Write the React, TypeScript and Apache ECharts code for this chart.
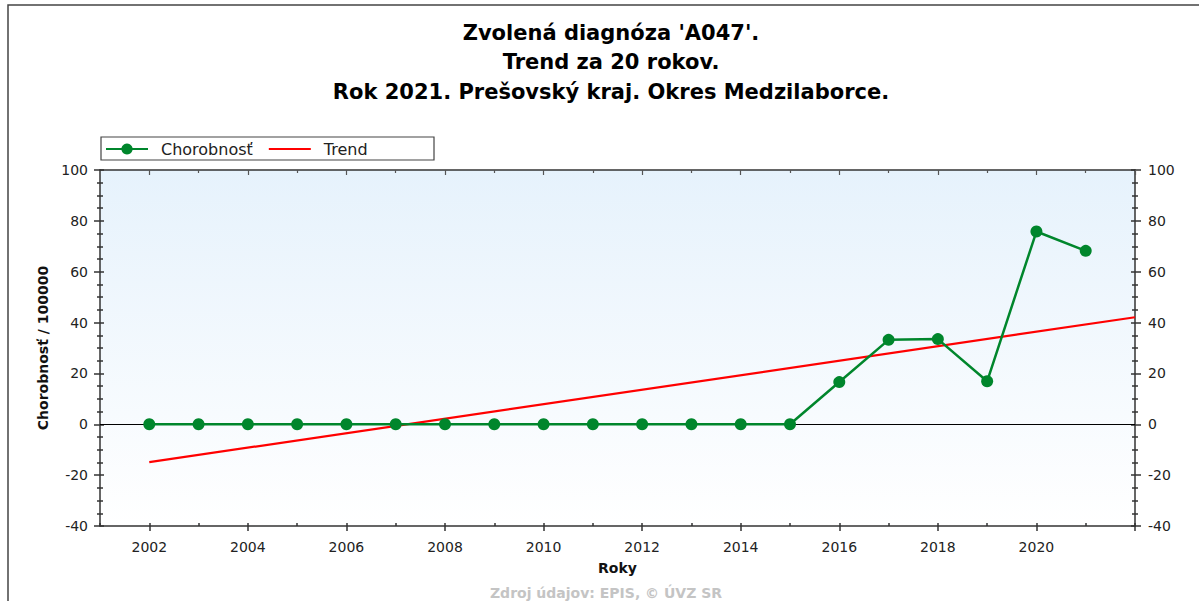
import React, { useEffect, useRef } from "react";
import * as echarts from "echarts";

const titleLines = ["Zvolená diagnóza 'A047'.", "Trend za 20 rokov.", "Rok 2021. Prešovský kraj. Okres Medzilaborce."];
const years = [2002, 2003, 2004, 2005, 2006, 2007, 2008, 2009, 2010, 2011, 2012, 2013, 2014, 2015, 2016, 2017, 2018, 2019, 2020, 2021];
const chorobnost = [0, 0, 0, 0, 0, 0, 0, 0, 0, 0, 0, 0, 0, 0, 16.6, 33.2, 33.5, 16.9, 75.8, 68.2];
const trendYears = [2002, 2022];
const trendValues = [-14.9, 42.1];
const majorYears = [2002, 2004, 2006, 2008, 2010, 2012, 2014, 2016, 2018, 2020, 2022];
const labelYears = [2002, 2004, 2006, 2008, 2010, 2012, 2014, 2016, 2018, 2020];
const allYears = [2001, 2002, 2003, 2004, 2005, 2006, 2007, 2008, 2009, 2010, 2011, 2012, 2013, 2014, 2015, 2016, 2017, 2018, 2019, 2020, 2021, 2022];
const oddYears = [2003, 2005, 2007, 2009, 2011, 2013, 2015, 2017, 2019, 2021];
const seriesNames = ["Chorobnosť", "Trend"];
const xAxisName = "Roky";
const yAxisName = "Chorobnosť / 100000";
const footer = "Zdroj údajov: EPIS, © ÚVZ SR";

const FONT = "'DejaVu Sans', Verdana, sans-serif";
const GREEN = "#00862c";
const RED = "#ff0000";
const AX = "#222";

export default function App() {
  const ref = useRef<HTMLDivElement>(null);
  useEffect(() => {
    if (!ref.current) return;
    const chart = echarts.init(ref.current, null, { renderer: "svg" });
    const yBase = { type: "value", min: -40, max: 100, interval: 20, splitLine: { show: false } };
    const xBase = { type: "value", min: 2001, max: 2022, splitLine: { show: false } };
    const line = (show: boolean) => ({ show, onZero: false, lineStyle: { color: "#333", width: 1.5 } });
    chart.setOption({
      animation: false,
      backgroundColor: "#ffffff",
      textStyle: { fontFamily: FONT },
      title: {
        text: titleLines.join("\n"),
        left: 606,
        textAlign: "center",
        top: 13,
        textStyle: { fontFamily: FONT, fontSize: 21, fontWeight: "bold", color: "#000", lineHeight: 29.5 },
      },
      graphic: [
        { type: "rect", shape: { x: 8, y: 5, width: 1210, height: 640 }, style: { fill: "none", stroke: "#444", lineWidth: 1.5 }, z: 0 },
        { type: "rect", shape: { x: 101, y: 137, width: 333, height: 23 }, style: { fill: "#fff", stroke: "#444", lineWidth: 1.2 }, z: 1 },
        {
          type: "text",
          x: 606,
          y: 593,
          style: { text: footer, fill: "#c4c4c4", font: `bold 14px ${FONT}`, textAlign: "center", textVerticalAlign: "middle" },
        },
      ],
      legend: {
        left: 105,
        top: 141,
        padding: 0,
        itemWidth: 42,
        itemHeight: 14,
        itemGap: 16,
        z: 10,
        data: [
          { name: seriesNames[0] },
          { name: seriesNames[1], icon: "path://M0,0 L42,0 L42,2.2 L0,2.2 Z" },
        ],
        textStyle: { fontFamily: FONT, fontSize: 16, color: "#222", padding: [0, 0, 0, 8] },
      },
      grid: {
        left: 100,
        right: 64,
        top: 170,
        bottom: 75,
        show: true,
        borderWidth: 0,
        backgroundColor: {
          type: "linear",
          x: 0,
          y: 0,
          x2: 0,
          y2: 1,
          colorStops: [
            { offset: 0, color: "#e6f2fc" },
            { offset: 1, color: "#ffffff" },
          ],
        },
      },
      xAxis: [
        {
          ...xBase,
          position: "bottom",
          axisLine: line(true),
          axisTick: { show: true, inside: false, length: 5, customValues: majorYears, lineStyle: { color: "#333", width: 1.5 } },
          axisLabel: { customValues: labelYears, formatter: (v: number) => String(v), fontSize: 14, color: AX, margin: 14, fontFamily: FONT },
          name: xAxisName,
          nameLocation: "middle",
          nameGap: 35,
          nameTextStyle: { fontFamily: FONT, fontSize: 14, fontWeight: "bold", color: "#111" },
        },
        {
          ...xBase,
          position: "bottom",
          axisLine: line(false),
          axisTick: { show: true, inside: true, length: 3, customValues: allYears, lineStyle: { color: "#333", width: 1.5 } },
          axisLabel: { show: false },
        },
        {
          ...xBase,
          position: "top",
          axisLine: line(true),
          axisTick: { show: true, inside: true, length: 5, customValues: majorYears, lineStyle: { color: "#555", width: 1.2 } },
          axisLabel: { show: false },
        },
        {
          ...xBase,
          position: "top",
          axisLine: line(false),
          axisTick: { show: true, inside: true, length: 3, customValues: oddYears, lineStyle: { color: "#555", width: 1.2 } },
          axisLabel: { show: false },
        },
      ],
      yAxis: [
        {
          ...yBase,
          position: "left",
          axisLine: line(true),
          axisTick: { show: true, inside: false, length: 6, lineStyle: { color: "#333", width: 1.5 } },
          minorTick: { show: true, splitNumber: 4, length: 3, lineStyle: { color: "#333", width: 1.5 } },
          axisLabel: { fontSize: 14, color: AX, margin: 12, fontFamily: FONT },
          name: yAxisName,
          nameLocation: "middle",
          nameGap: 50,
          nameTextStyle: { fontFamily: FONT, fontSize: 14, fontWeight: "bold", color: "#111" },
        },
        {
          ...yBase,
          position: "left",
          axisLine: line(false),
          axisTick: { show: true, inside: true, length: 4, lineStyle: { color: "#333", width: 1.5 } },
          minorTick: { show: true, splitNumber: 4, length: 3, lineStyle: { color: "#333", width: 1.5 } },
          axisLabel: { show: false },
        },
        {
          ...yBase,
          position: "right",
          axisLine: line(true),
          axisTick: { show: true, inside: false, length: 6, lineStyle: { color: "#333", width: 1.5 } },
          minorTick: { show: true, splitNumber: 4, length: 3, lineStyle: { color: "#333", width: 1.5 } },
          axisLabel: { fontSize: 14, color: AX, margin: 13, fontFamily: FONT },
        },
        {
          ...yBase,
          position: "right",
          axisLine: line(false),
          axisTick: { show: true, inside: true, length: 4, lineStyle: { color: "#333", width: 1.5 } },
          minorTick: { show: true, splitNumber: 4, length: 3, lineStyle: { color: "#333", width: 1.5 } },
          axisLabel: { show: false },
        },
      ],
      series: [
        {
          name: seriesNames[1],
          type: "line",
          xAxisIndex: 0,
          yAxisIndex: 0,
          data: trendYears.map((y, i) => [y, trendValues[i]]),
          showSymbol: false,
          symbol: "none",
          lineStyle: { color: RED, width: 2.2 },
          itemStyle: { color: RED },
          z: 3,
          markLine: {
            silent: true,
            symbol: "none",
            label: { show: false },
            lineStyle: { color: "#000", width: 1, type: "solid" },
            data: [{ yAxis: 0 }],
            z: 2,
          },
        },
        {
          name: seriesNames[0],
          type: "line",
          xAxisIndex: 0,
          yAxisIndex: 0,
          data: years.map((y, i) => [y, chorobnost[i]]),
          symbol: "circle",
          symbolSize: 12,
          lineStyle: { color: GREEN, width: 2.5 },
          itemStyle: { color: GREEN },
          z: 4,
        },
      ],
    });
    return () => chart.dispose();
  }, []);
  return <div ref={ref} style={{ position: "fixed", left: 0, top: 0, width: 1199, height: 601 }} />;
}
